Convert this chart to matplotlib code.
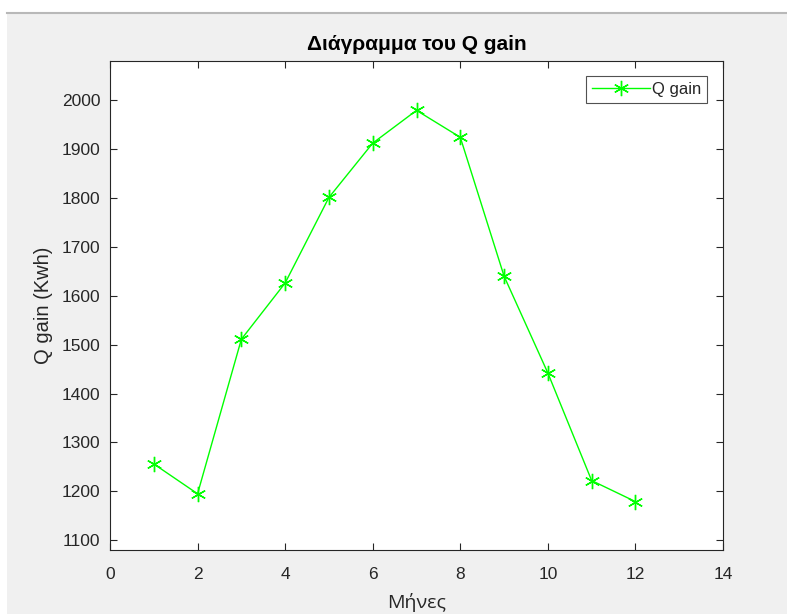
import matplotlib
matplotlib.use("Agg")
import matplotlib.pyplot as plt
from matplotlib.patches import Rectangle
from matplotlib.lines import Line2D

months = [1, 2, 3, 4, 5, 6, 7, 8, 9, 10, 11, 12]
q_gain = [1256, 1195, 1511, 1626, 1801, 1912, 1979, 1924, 1640, 1442, 1222, 1179]
x_ticks = [0, 2, 4, 6, 8, 10, 12, 14]
y_ticks = [1100, 1200, 1300, 1400, 1500, 1600, 1700, 1800, 1900, 2000]

W, H = 787, 614
fig = plt.figure(figsize=(W / 100, H / 100), dpi=100)
fig.patch.set_facecolor("#f0f0f0")
fig.patches.append(Rectangle((0, 1 - 12 / H), 1, 12 / H, transform=fig.transFigure,
                             facecolor="white", edgecolor="none", zorder=0))
fig.patches.append(Rectangle((0, 0), 7 / W, 1, transform=fig.transFigure,
                             facecolor="white", edgecolor="none", zorder=0))
fig.lines.append(Line2D([7 / W, 1], [1 - 13 / H, 1 - 13 / H], transform=fig.transFigure,
                        color="#b8b8b8", lw=1.5, zorder=1))

left, right, top, bottom = 110, 723, 61, 550
ax = fig.add_axes([left / W, 1 - bottom / H, (right - left) / W, (bottom - top) / H])
ax.set_facecolor("white")

tc = "#262626"
ax.plot(months, q_gain, color="#00ff00", lw=1.0, marker=(6, 2, 0), markersize=11,
        markeredgewidth=1.0, label="Q gain")

ax.set_xlim(0, 14)
ax.set_ylim(1080, 2080)
ax.set_xticks(x_ticks)
ax.set_yticks(y_ticks)
ax.tick_params(direction="in", top=True, right=True, length=5, width=0.8,
               color=tc, labelcolor=tc, labelsize=12.5)
ax.tick_params(axis="y", pad=7)
ax.tick_params(axis="x", pad=12)
for lab in ax.get_xticklabels() + ax.get_yticklabels():
    lab.set_family("Liberation Sans")
for s in ax.spines.values():
    s.set_color(tc)
    s.set_linewidth(0.8)

ax.set_title("Διάγραμμα του Q gain", fontsize=15, fontweight="bold",
             family="Liberation Sans", color="black", pad=8)
ax.set_xlabel("Μήνες", fontsize=14, family="Open Sans", color=tc, labelpad=8)
ax.set_ylabel("Q gain (Kwh)", fontsize=14.5, family="Liberation Sans", color=tc, labelpad=6)

leg = ax.legend(loc="upper right", bbox_to_anchor=(0.974, 0.969), frameon=True,
                fancybox=False, edgecolor=tc, prop={"family": "Liberation Sans", "size": 12},
                handlelength=3.5, borderpad=0.35, handletextpad=0.1, borderaxespad=0)
leg.get_frame().set_linewidth(0.8)
for t in leg.get_texts():
    t.set_color(tc)

fig.savefig("out.png", dpi=100, facecolor=fig.get_facecolor())
